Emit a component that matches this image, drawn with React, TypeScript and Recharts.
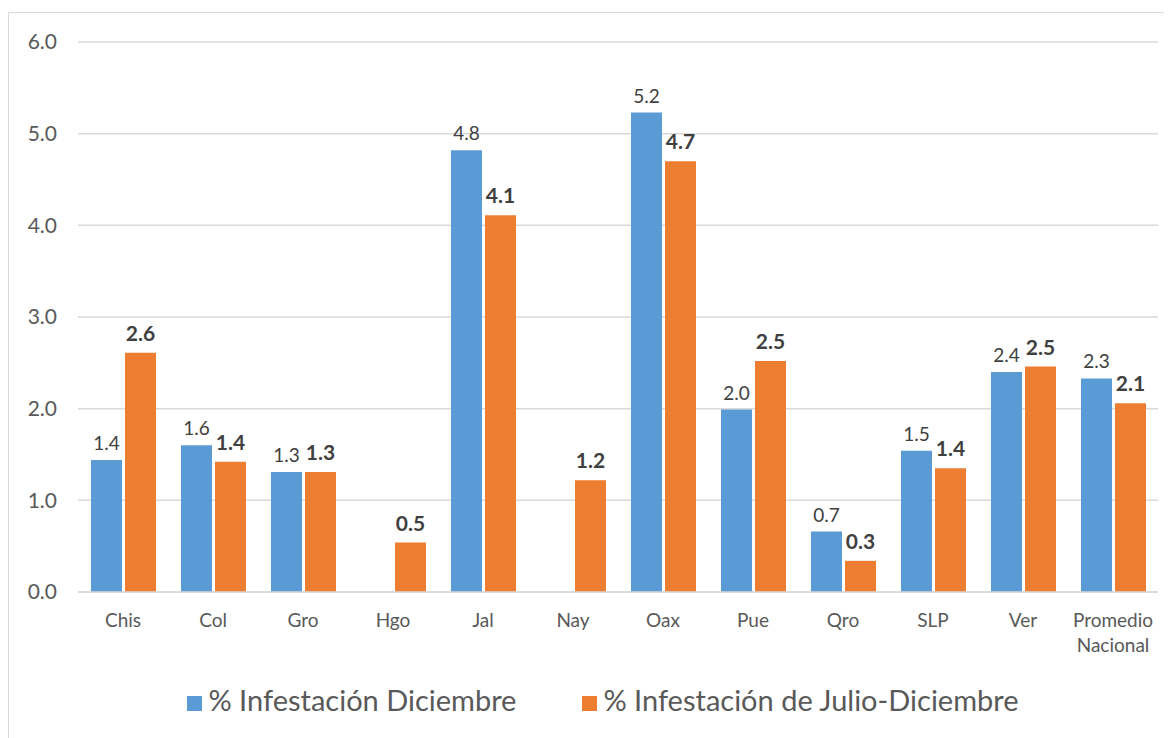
import React from 'react';
import { BarChart, Bar, XAxis, YAxis, CartesianGrid, Legend, LabelList } from 'recharts';

const estados = ['Chis', 'Col', 'Gro', 'Hgo', 'Jal', 'Nay', 'Oax', 'Pue', 'Qro', 'SLP', 'Ver', 'Promedio Nacional'];
const infDiciembre = [1.44, 1.6, 1.31, null, 4.82, null, 5.23, 1.99, 0.66, 1.54, 2.4, 2.33];
const infJulioDic = [2.61, 1.42, 1.31, 0.54, 4.11, 1.22, 4.7, 2.52, 0.34, 1.35, 2.46, 2.06];
const yTicks = [0, 1, 2, 3, 4, 5, 6];

const data = estados.map((estado, i) => ({
  estado,
  dic: infDiciembre[i],
  julDic: infJulioDic[i],
}));

const FONT = 'Lato, "Open Sans", sans-serif';

const fmt = (v: any) => (v == null ? '' : Number(v).toFixed(1));

const CategoryTick = (props: any) => {
  const { x, y, payload } = props;
  const words = String(payload.value).split(' ');
  return (
    <g transform={`translate(${x},${y})`}>
      {words.map((w: string, i: number) => (
        <text
          key={i}
          x={0}
          y={27 + i * 25}
          textAnchor="middle"
          fill="#595959"
          fontSize={19}
          fontFamily={FONT}
        >
          {w}
        </text>
      ))}
    </g>
  );
};

export default function App() {
  return (
    <div
      style={{
        marginTop: 4,
        width: 1163,
        height: 726,
        overflow: 'hidden',
        borderTop: '1px solid #d9d9d9',
        borderLeft: '1px solid #d9d9d9',
        borderBottom: '1px solid #d9d9d9',
        background: '#fff',
        fontFamily: FONT,
      }}
    >
      <BarChart
        width={1170}
        height={726}
        data={data}
        margin={{ top: 29, right: 21, left: 9, bottom: 22 }}
        barCategoryGap={12}
        barGap={3}
      >
        <CartesianGrid vertical={false} stroke="#d9d9d9" strokeWidth={1.5} />
        <XAxis
          dataKey="estado"
          tick={<CategoryTick />}
          tickLine={false}
          axisLine={{ stroke: '#d9d9d9', strokeWidth: 1.5 }}
          height={70}
          interval={0}
        />
        <YAxis
          domain={[0, 6]}
          ticks={yTicks}
          tickFormatter={(v: number) => v.toFixed(1)}
          tick={{ fill: '#595959', fontSize: 21, fontFamily: FONT }}
          tickLine={false}
          axisLine={false}
          tickSize={0}
          tickMargin={21}
          width={60}
        />
        <Legend
          verticalAlign="bottom"
          iconType="square"
          iconSize={15}
          wrapperStyle={{ paddingTop: 20, paddingLeft: 48, fontSize: 29, fontFamily: FONT }}
          formatter={(value: string) => (
            <span style={{ color: '#595959', marginRight: 56, marginLeft: 2 }}>{value}</span>
          )}
        />
        <Bar dataKey="dic" name="% Infestación Diciembre" fill="#5b9bd5" barSize={31} isAnimationActive={false}>
          <LabelList
            dataKey="dic"
            position="top"
            offset={10}
            formatter={fmt}
            fill="#404040"
            fontSize={19}
            fontFamily={FONT}
          />
        </Bar>
        <Bar dataKey="julDic" name="% Infestación de Julio-Diciembre" fill="#ed7d31" barSize={31} isAnimationActive={false}>
          <LabelList
            dataKey="julDic"
            position="top"
            offset={12}
            formatter={fmt}
            fill="#404040"
            fontSize={21}
            fontWeight="bold"
            fontFamily={FONT}
          />
        </Bar>
      </BarChart>
    </div>
  );
}
